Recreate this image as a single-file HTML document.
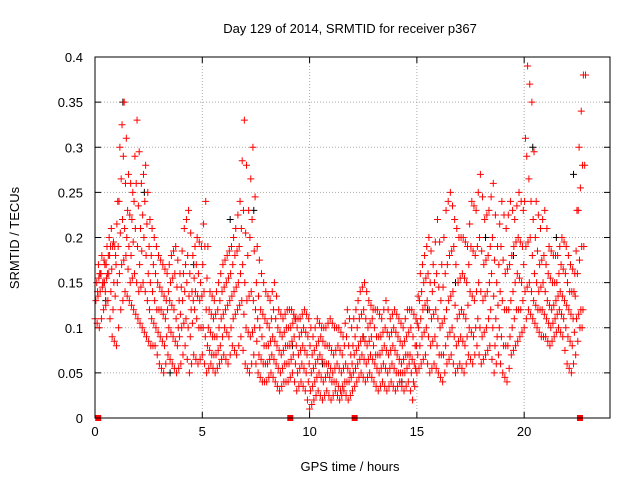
<!DOCTYPE html>
<html><head><meta charset="utf-8"><style>
body{margin:0;background:#fff;}
svg{display:block;font-family:"Liberation Sans",sans-serif;}
</style></head><body>
<svg id="chart" width="640" height="480" viewBox="0 0 640 480" xmlns="http://www.w3.org/2000/svg">
<rect width="640" height="480" fill="#fff"/>
<text x="350" y="33" font-size="13" text-anchor="middle">Day 129 of 2014, SRMTID for receiver p367</text>
<text x="350" y="471" font-size="13" text-anchor="middle">GPS time / hours</text>
<text x="19" y="238" font-size="13" text-anchor="middle" transform="rotate(-90 19 238)">SRMTID / TECUs</text>
<g id="grid"></g><g id="ticks"></g><g id="marks"></g>
<rect x="95" y="57" width="515" height="361" fill="none" stroke="#000" stroke-width="1"/>
</svg>
<script>
const xTicks=[0,5,10,15,20];
const yTicks=[0,0.05,0.1,0.15,0.2,0.25,0.3,0.35,0.4];
const yTickLabels=["0","0.05","0.1","0.15","0.2","0.25","0.3","0.35","0.4"];
const slotStep=0.2;
const s1=[.11,.10,.12,.13,.09, .08,.12,.14,.13,.12, .11,.10,.09,.08,.08, .06,.05,.07,.06,.05, .06,.08,.05,.07,.06, .07,.05,.06,.05,.06, .07,.06,.08,.07,.09, .06,.05,.07,.05,.04, .04,.05,.04,.03,.04, .04,.05,.03,.04,.03, .01,.02,.03,.02,.03, .02,.03,.02,.03,.02, .03,.04,.05,.04,.05, .04,.03,.04,.03,.04, .03,.04,.03,.04,.02, .05,.06,.07,.05,.06, .05,.04,.06,.07,.05, .06,.05,.07,.06,.08, .06,.07,.08,.05,.07, .05,.04,.07,.08,.09, .10,.12,.11,.10,.09, .09,.08,.09,.10,.09, .06,.05,.07,.10];
const s2=[.13,.14,.15,.16,.12, .15,.17,.18,.15,.16, .14,.15,.13,.11,.10, .09,.08,.10,.09,.08, .10,.11,.09,.12,.10, .10,.08,.07,.07,.08, .10,.09,.11,.12,.13, .10,.09,.10,.07,.06, .06,.07,.06,.05,.06, .06,.07,.05,.06,.05, .03,.04,.05,.04,.05, .04,.04,.03,.04,.04, .05,.06,.07,.06,.07, .06,.05,.06,.05,.06, .05,.05,.05,.06,.04, .07,.09,.10,.08,.09, .07,.07,.09,.10,.08, .09,.08,.10,.09,.11, .09,.10,.12,.08,.10, .08,.08,.10,.12,.12, .14,.15,.13,.12,.12, .11,.10,.11,.12,.11, .09,.08,.11,.12];
const s3=[.15,.16,.14,.18,.15, .19,.22,.20,.18,.21, .17,.20,.16,.14,.12, .12,.11,.13,.12,.10, .13,.15,.12,.14,.13, .14,.10,.09,.09,.11, .12,.13,.14,.15,.17, .13,.14,.12,.10,.08, .08,.09,.08,.07,.08, .08,.09,.07,.08,.07, .05,.06,.07,.06,.06, .05,.06,.05,.06,.05, .07,.08,.09,.08,.09, .07,.07,.08,.07,.08, .07,.06,.07,.07,.06, .10,.12,.13,.11,.12, .10,.11,.13,.14,.11, .12,.11,.14,.13,.15, .13,.14,.16,.11,.14, .12,.12,.14,.16,.15, .19,.20,.16,.14,.15, .13,.12,.13,.14,.13, .12,.11,.16,.19];
const s4=[.14,.18,.17,.19,.19, .24,.29,.23,.22,.26, .21,.24,.19,.17,.15, .14,.13,.15,.16,.13, .16,.18,.14,.17,.15, .19,.12,.11,.12,.14, .15,.16,.18,.19,.23, .18,.22,.15,.12,.11, .10,.12,.10,.09,.10, .10,.11,.09,.10,.09, .07,.08,.09,.08,.08, .07,.08,.07,.09,.07, .09,.11,.12,.10,.11, .09,.09,.10,.09,.10, .09,.08,.09,.10,.08, .13,.15,.16,.14,.16, .13,.16,.18,.19,.15, .16,.15,.19,.18,.20, .17,.18,.20,.15,.19, .16,.17,.19,.20,.19, .29,.24,.20,.17,.18, .16,.15,.15,.17,.16, .14,.14,.23,.28];
const s5=[.17,.15,.19,.21,.18, .30,.35,.27,.25,.33, .26,.28,.22,.20,.18, .17,.16,.18,.19,.16, .21,.23,.18,.20,.19, .24,.14,.13,.15,.17, .18,.19,.21,.24,.33, .23,.30,.19,.16,.14, .13,.15,.12,.11,.12, .12,.11,.11,.12,.11, .09,.11,.10,.10,.11, .10,.10,.09,.12,.10, .12,.14,.15,.13,.12, .12,.11,.13,.11,.12, .11,.10,.12,.12,.11, .16,.18,.20,.17,.22, .17,.23,.25,.22,.20, .20,.19,.24,.23,.27, .22,.23,.26,.19,.24, .21,.24,.22,.25,.23, .39,.35,.24,.21,.23, .19,.18,.18,.20,.19, .17,.16,.30,.38];
const blackTimes=[0.5,1.3,2.3,3.5,4.6,6.3,7.4,9.2,10.6,12.5,14.3,15.5,16.8,18.2,19.5,20.4,21.5,22.3];
const blackValues=[.13,.35,.25,.05,.17,.22,.23,.08,.06,.09,.04,.12,.15,.2,.18,.3,.2,.27];
const markerTimes=[0.15,9.1,12.1,22.6];
const NS="http://www.w3.org/2000/svg";
const X0=95,X1=610,Y0=418,Y1=57,XMAX=24,YMAX=0.4;
function xs(v){return X0+(X1-X0)*v/XMAX;}
function ys(v){return Y0-(Y0-Y1)*v/YMAX;}
const grid=document.getElementById('grid'),ticks=document.getElementById('ticks'),marks=document.getElementById('marks');
function mk(tag,attrs,parent){const e=document.createElementNS(NS,tag);for(const k in attrs)e.setAttribute(k,attrs[k]);parent.appendChild(e);return e;}
xTicks.forEach(v=>{const x=xs(v);
 if(v>0){const g=mk('line',{x1:x,x2:x,y1:Y0,y2:Y1,stroke:'#aaa','stroke-dasharray':'1,2'},grid);
 
 }
 const t=mk('text',{x:x,y:Y0+18,'font-size':13,'text-anchor':'middle'},ticks);t.textContent=v;
 
 
 mk('line',{x1:x,x2:x,y1:Y0,y2:Y0-6,stroke:'#000'},ticks);
 mk('line',{x1:x,x2:x,y1:Y1,y2:Y1+6,stroke:'#000'},ticks);
});
yTicks.forEach((v,i)=>{const y=ys(v);
 if(v>0&&v<YMAX){const g=mk('line',{x1:X0,x2:X1,y1:y,y2:y,stroke:'#aaa','stroke-dasharray':'1,2'},grid);
 
 }
 const t=mk('text',{x:X0-12,y:y+5,'font-size':13,'text-anchor':'end'},ticks);t.textContent=yTickLabels[i];
 
 
 mk('line',{x1:X0,x2:X0+6,y1:y,y2:y,stroke:'#000'},ticks);
 mk('line',{x1:X1,x2:X1-6,y1:y,y2:y,stroke:'#000'},ticks);
});
function plus(t,v,color,name){const x=xs(t),y=ys(v);
 const p=mk('path',{d:`M${x-3.5} ${y}h7M${x} ${y-3.5}v7`,stroke:color,'stroke-width':1,fill:'none'},marks);
 
 }
blackValues.forEach((v,i)=>plus(blackTimes[i],v,'#000','black-point'));
[s1,s2,s3,s4,s5].forEach((arr,j)=>{arr.forEach((v,i)=>{
 plus(i*slotStep+j*0.04,v,'#f00','srmtid-point');
 plus(i*slotStep+j*0.04+0.1,(v+arr[Math.min(i+1,arr.length-1)])/2,'#f00','srmtid-point');
});});
markerTimes.forEach(t=>{const r=mk('rect',{x:xs(t)-3,y:Y0-3,width:6,height:6,fill:'#f00'},marks);
 
 });
</script>
</body></html>
